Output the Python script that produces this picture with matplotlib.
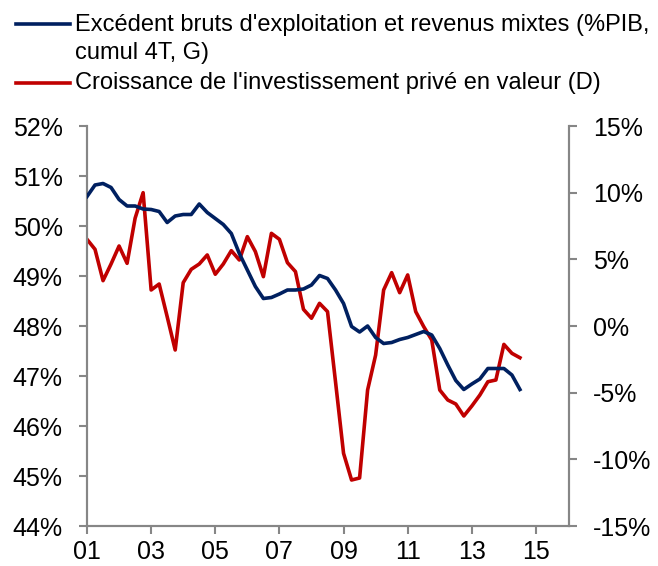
import pandas as pd
import numpy as np
import matplotlib.pyplot as plt
from matplotlib.lines import Line2D

plt.rcParams["font.family"] = ["Liberation Sans", "DejaVu Sans"]

# quarterly series, 2001Q1 - 2014Q3
quarters = pd.period_range("2001Q1", "2014Q3", freq="Q")

ebe = [50.59, 50.82, 50.85, 50.77, 50.53, 50.40, 50.40, 50.34, 50.33, 50.29,
       50.07, 50.20, 50.23, 50.23, 50.44, 50.27, 50.15, 50.03, 49.85, 49.45,
       49.12, 48.79, 48.55, 48.57, 48.64, 48.72, 48.72, 48.74, 48.82, 49.01,
       48.95, 48.72, 48.45, 47.99, 47.88, 48.00, 47.77, 47.65, 47.67, 47.73,
       47.77, 47.83, 47.89, 47.82, 47.55, 47.22, 46.91, 46.73, 46.84, 46.94,
       47.15, 47.15, 47.15, 47.02, 46.73]

invest = [6.5, 5.75, 3.4, 4.65, 6.0, 4.7, 8.08, 10.0, 2.7, 3.15,
          0.7, -1.8, 3.25, 4.25, 4.65, 5.33, 3.88, 4.65, 5.65, 4.95,
          6.7, 5.58, 3.7, 6.95, 6.5, 4.75, 4.08, 1.25, 0.58, 1.7,
          1.08, -4.2, -9.55, -11.55, -11.4, -4.8, -2.18, 2.7, 4.0, 2.5,
          3.83, 1.08, -0.05, -1.05, -4.8, -5.55, -5.85, -6.75, -6.0, -5.18,
          -4.18, -4.05, -1.38, -2.05, -2.38]

label_ebe = "Excédent bruts d'exploitation et revenus mixtes (%PIB,\ncumul 4T, G)"
label_inv = "Croissance de l'investissement privé en valeur (D)"

left_ticks = [44, 45, 46, 47, 48, 49, 50, 51, 52]
right_ticks = [-15, -10, -5, 0, 5, 10, 15]
year_ticks = [2001, 2003, 2005, 2007, 2009, 2011, 2013, 2015]

x = quarters.year + (quarters.quarter - 1) / 4

blue = "#002060"
red = "#C00000"
grey = "#868686"

fig = plt.figure(figsize=(6.58, 5.66), dpi=100)
ax = fig.add_axes([87 / 658, 40 / 566, 482 / 658, 400 / 566])
ax2 = ax.twinx()

ax.plot(x, ebe, color=blue, lw=2.6, zorder=3)
ax2.plot(x, invest, color=red, lw=2.6)
ax.set_zorder(ax2.get_zorder() + 1)
ax.patch.set_visible(False)

ax.set_xlim(2001, 2016.03)
ax.set_ylim(44, 52)
ax2.set_ylim(-15, 15)

ax.set_xticks(year_ticks)
ax.set_xticklabels([f"{y % 100:02d}" for y in year_ticks])
ax.set_yticks(left_ticks)
ax.set_yticklabels([f"{v}%" for v in left_ticks])
ax2.set_yticks(right_ticks)
ax2.set_yticklabels([f"{v}%" for v in right_ticks])

for a in (ax, ax2):
    a.spines["top"].set_visible(False)
    for s in ("left", "right", "bottom"):
        a.spines[s].set_color(grey)
        a.spines[s].set_linewidth(1.5)
    a.tick_params(colors=grey, labelcolor="black", labelsize=18,
                  width=1.5, length=6, pad=11.5)
ax.tick_params(axis="x", pad=4)

# legend drawn by hand at the top
for yy, c in ((24.3, blue), (83.3, red)):
    fig.add_artist(Line2D([16 / 658, 70 / 658], [1 - yy / 566, 1 - yy / 566],
                          color=c, lw=2.6))
fig.text(75 / 658, 1 - 24.5 / 566, label_ebe.split("\n")[0], fontsize=17,
         va="center")
fig.text(75 / 658, 1 - 53 / 566, label_ebe.split("\n")[1], fontsize=17,
         va="center")
fig.text(75 / 658, 1 - 82.5 / 566, label_inv, fontsize=17, va="center")

fig.savefig("out.png", dpi=100)
